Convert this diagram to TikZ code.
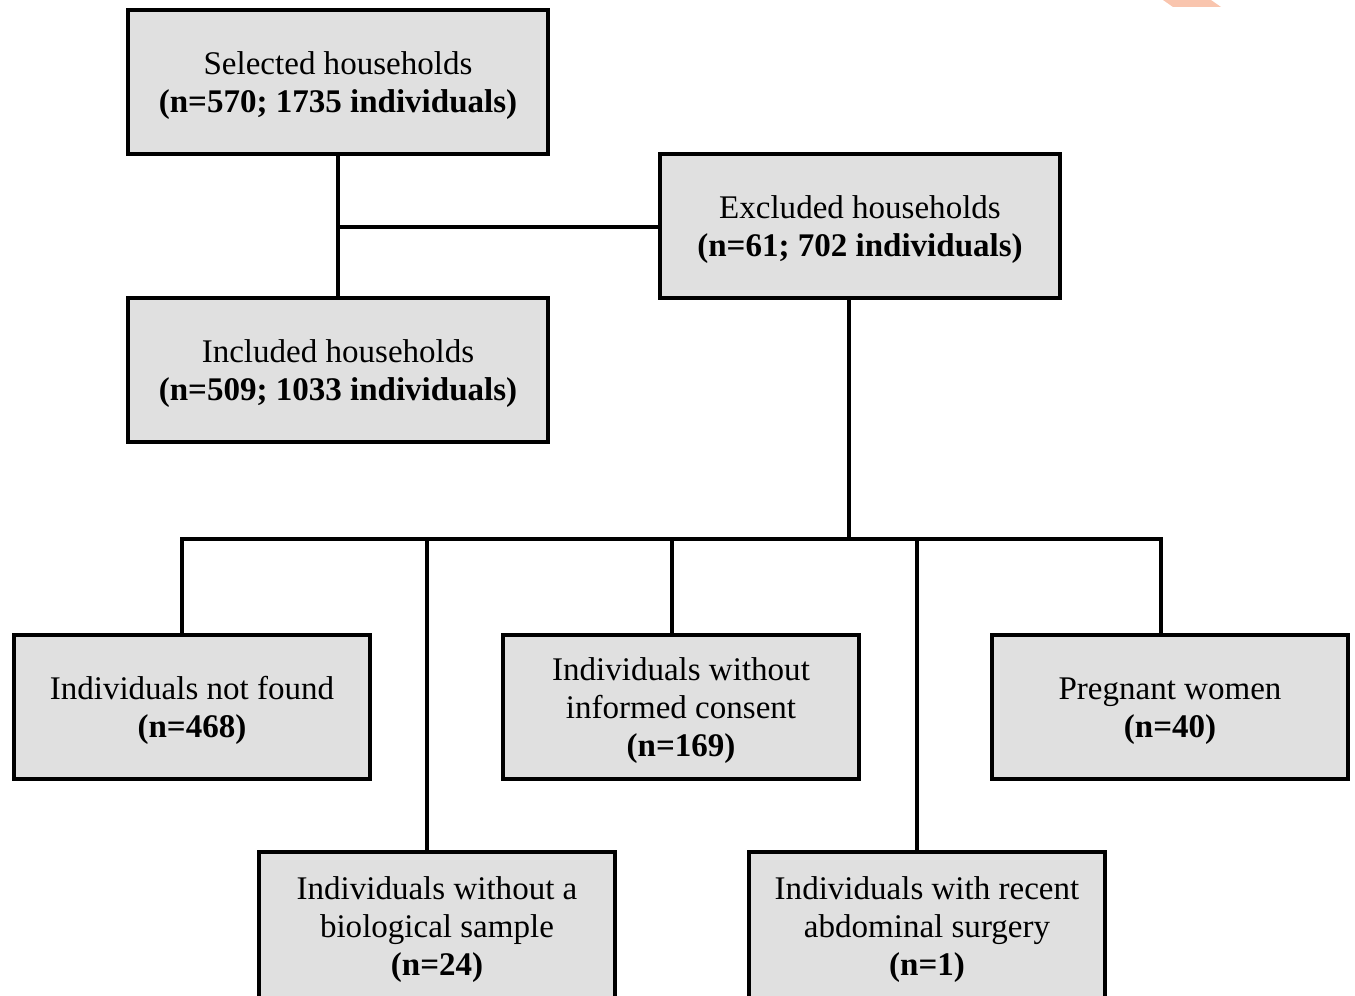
\documentclass[tikz,border=0pt]{standalone}
\usepackage{fontspec}
\setmainfont{Liberation Serif}
\definecolor{boxgray}{HTML}{E0E0E0}
\definecolor{markorange}{HTML}{F9C5AE}
\newcommand\boxtext[1]{\raisebox{-2.4pt}[\height][\depth]{\begin{tabular}{@{}c@{}}#1\end{tabular}}}
\begin{document}
\begin{tikzpicture}[x=0.02cm,y=-0.02cm,line width=2pt,
    main box/.style={rectangle,draw,fill=boxgray,line width=2pt,inner sep=0pt,
        font=\fontsize{18.8}{21.6}\selectfont,minimum height=2.88cm},
    wide box/.style={main box,minimum width=8.4cm},
    mid box/.style={main box,minimum width=8cm},
    small box/.style={main box,minimum width=7.12cm},
    cut box/.style={small box,minimum height=2.96cm}]
        \path[use as bounding box,clip] (0,0) rectangle (1355,996);
        \fill[markorange] (1163,0) -- (1211,0) -- (1221,7) -- (1173,7) -- cycle;

        \node[wide box] at (338,82) (sel) {\boxtext{Selected households\\\textbf{(n=570; 1735 individuals)}}};
        \node[mid box] at (860,226) (exc) {\boxtext{Excluded households\\\textbf{(n=61; 702 individuals)}}};
        \node[wide box] at (338,370) (inc) {\boxtext{Included households\\\textbf{(n=509; 1033 individuals)}}};
        \node[small box] at (192,707) (nf) {\boxtext{Individuals not found\\\textbf{(n=468)}}};
        \node[small box] at (681,707) (nc) {\boxtext{Individuals without\\informed consent\\\textbf{(n=169)}}};
        \node[small box] at (1170,707) (pw) {\boxtext{Pregnant women\\\textbf{(n=40)}}};
        \node[cut box] at (437,926) (bs) {\boxtext{Individuals without a\\biological sample\\\textbf{(n=24)}}};
        \node[cut box] at (927,926) (as) {\boxtext{Individuals with recent\\abdominal surgery\\\textbf{(n=1)}}};

        \coordinate (split) at (338,227);
        \coordinate (hub) at (849,539);
        \coordinate (j1) at (182,539);
        \coordinate (j2) at (427,539);
        \coordinate (j3) at (672,539);
        \coordinate (j4) at (917,539);
        \coordinate (j5) at (1161,539);

        \draw (sel) -- (inc);
        \draw (split) -- (exc.west |- split);
        \draw (exc.south -| hub) -- (hub);
        \draw (j1 |- nf.north) -- (j1) -- (j5) -- (j5 |- pw.north);
        \draw (j2) -- (j2 |- bs.north);
        \draw (j3) -- (j3 |- nc.north);
        \draw (j4) -- (j4 |- as.north);
    \end{tikzpicture}
\end{document}
